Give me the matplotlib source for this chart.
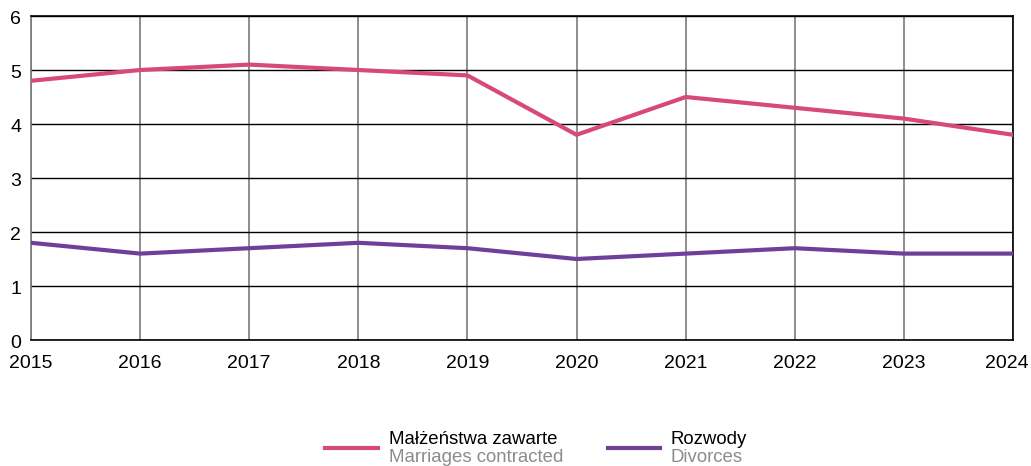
import matplotlib
matplotlib.use("Agg")
from matplotlib import pyplot as plt
from matplotlib.lines import Line2D
import matplotlib.transforms as mtransforms

plt.rcParams['font.family'] = ['Liberation Sans', 'DejaVu Sans']

years = [2015, 2016, 2017, 2018, 2019, 2020, 2021, 2022, 2023, 2024]
marriages = [4.8, 5.0, 5.1, 5.0, 4.9, 3.8, 4.5, 4.3, 4.1, 3.8]
divorces = [1.8, 1.6, 1.7, 1.8, 1.7, 1.5, 1.6, 1.7, 1.6, 1.6]

pink = '#d6497a'
purple = '#6f3f9c'

W, H = 1031, 466
fig = plt.figure(figsize=(W / 100, H / 100), dpi=100)
ax = fig.add_axes([31 / W, (H - 340) / H, (1013 - 31) / W, (340 - 16) / H])

ax.plot(years, marriages, color=pink, lw=3, solid_joinstyle='miter', zorder=3)
ax.plot(years, divorces, color=purple, lw=3, solid_joinstyle='miter', zorder=3)

ax.set_xlim(2015, 2024)
ax.set_ylim(0, 6)
ax.set_xticks(years)
ax.set_yticks(range(0, 7))
ax.tick_params(length=0, labelsize=14, pad=7)
ax.tick_params(axis='x', pad=11)
ax.yaxis.grid(True, color='black', lw=1)
ax.xaxis.grid(True, color='#7a7a7a', lw=1.2)
ax.set_axisbelow(True)
for s in ax.spines.values():
    s.set_color('#7a7a7a')
    s.set_linewidth(1.2)
ax.spines['top'].set_color('black')
ax.spines['bottom'].set_color('black')
ax.spines['right'].set_color('black')

# y labels sit a touch below their gridlines in the original
for lab in ax.get_yticklabels():
    lab.set_transform(lab.get_transform() + mtransforms.ScaledTranslation(0, -0.02, fig.dpi_scale_trans))

# keep the last year label inside the figure
last = ax.get_xticklabels()[-1]
last.set_transform(last.get_transform() + mtransforms.ScaledTranslation(-0.06, 0, fig.dpi_scale_trans))

# legend built by hand (two-line labels in two colours)
for x0, x1, c, l1, l2 in [(325, 378, pink, 'Małżeństwa zawarte', 'Marriages contracted'),
                          (608, 660, purple, 'Rozwody', 'Divorces')]:
    fig.add_artist(Line2D([x0 / W, x1 / W], [1 - 448 / H, 1 - 448 / H], color=c, lw=3))
    fig.text((x1 + 11) / W, 1 - 439 / H, l1, fontsize=13.4, color='black', va='center')
    fig.text((x1 + 11) / W, 1 - 457 / H, l2, fontsize=13.4, color='#8c8c8c', va='center')

fig.savefig('out.png', dpi=100)
